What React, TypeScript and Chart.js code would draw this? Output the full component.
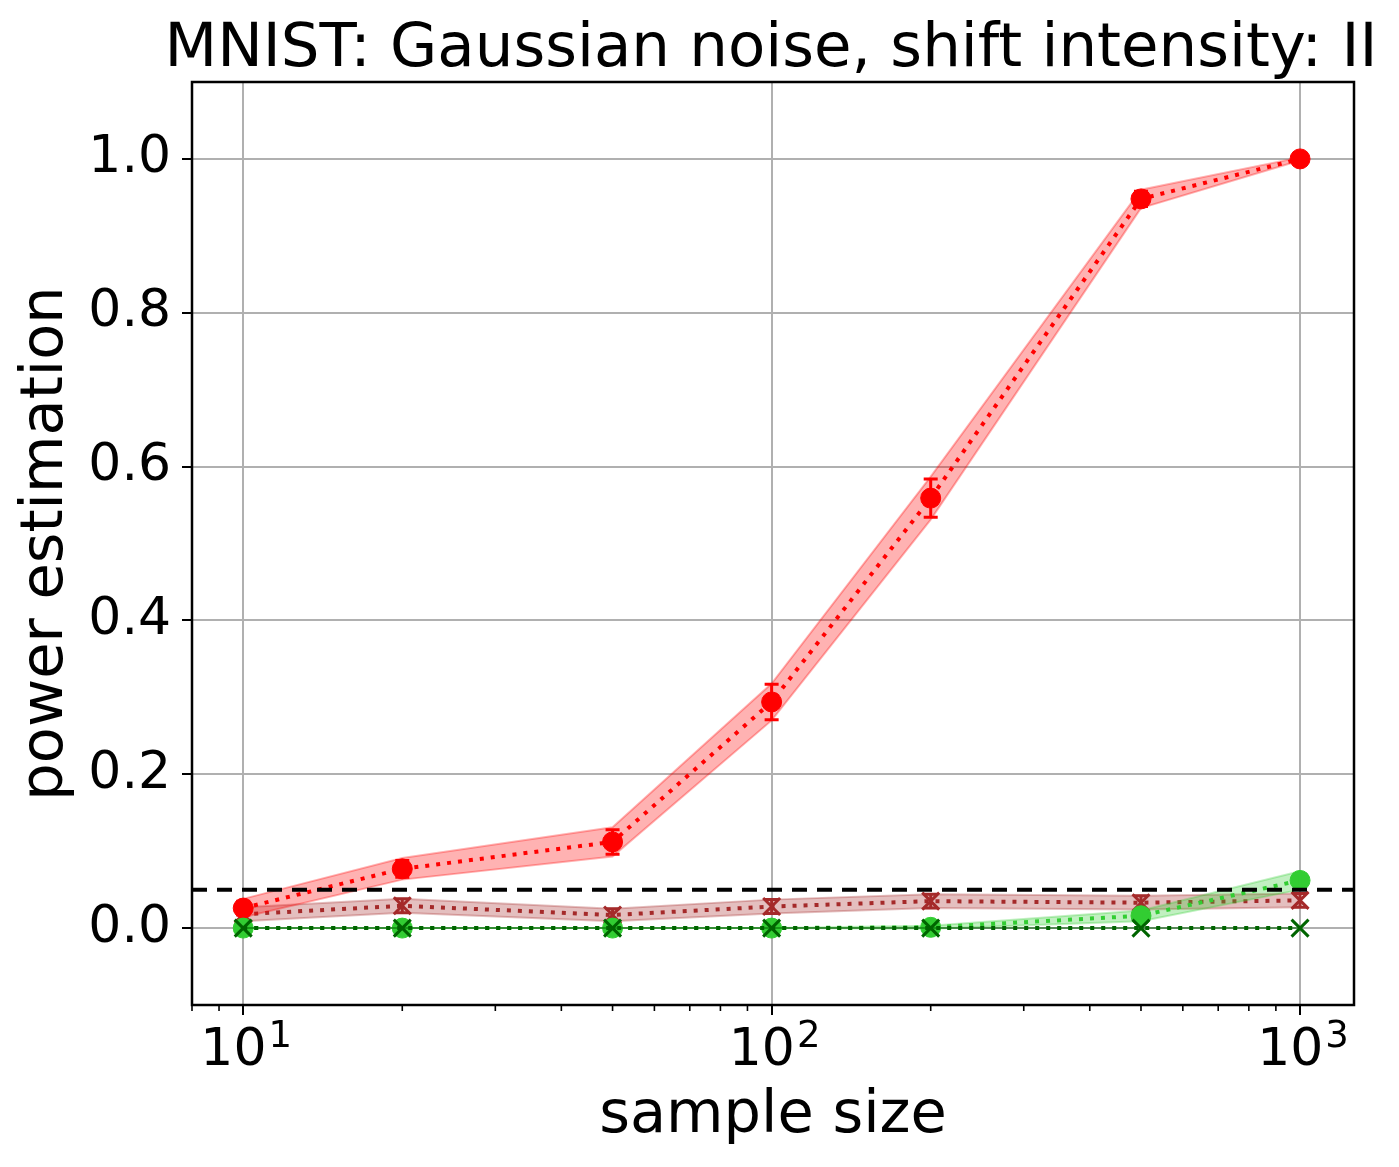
import { useEffect, useRef } from "react"
import { Chart, registerables } from "chart.js"

Chart.register(...registerables)

const TITLE = "MNIST: Gaussian noise, shift intensity: II"
const X_LABEL = "sample size"
const Y_LABEL = "power estimation"

const SAMPLE_SIZES = [10, 20, 50, 100, 200, 500, 1000]

const RED_MEAN = [0.026, 0.077, 0.112, 0.294, 0.559, 0.948, 1.0]
const RED_ERR = [0.009, 0.011, 0.016, 0.023, 0.025, 0.01, 0.0]
const RED_BAND = [0.012, 0.014, 0.019, 0.024, 0.028, 0.012, 0.002]

const BROWN_MEAN = [0.018, 0.029, 0.017, 0.028, 0.035, 0.033, 0.036]
const BROWN_ERR = [0.009, 0.009, 0.008, 0.009, 0.009, 0.009, 0.009]
const BROWN_BAND = [0.009, 0.009, 0.008, 0.009, 0.009, 0.009, 0.009]

const LIME_MEAN = [0, 0, 0, 0, 0.001, 0.016, 0.062]
const LIME_ERR = [0, 0, 0, 0, 0.001, 0.005, 0.008]
const LIME_BAND = [0, 0, 0, 0, 0.002, 0.007, 0.012]

const DARKGREEN_MEAN = [0, 0, 0, 0, 0, 0, 0]
const DARKGREEN_BAND = [0, 0, 0, 0, 0, 0, 0]

const ALPHA_LEVEL = 0.05

const X_MIN = 8
const X_MAX = 1265
const X_MAJOR = [10, 100, 1000]
const Y_TICKS = [0, 0.2, 0.4, 0.6, 0.8, 1.0]

const FONT = "'DejaVu Sans', sans-serif"

type Series = {
  mean: number[]
  err: number[] | null
  band: number[]
  rgb: string
  style: "circle" | "crossRot"
  radius: number
}

const SERIES: Series[] = [
  { mean: BROWN_MEAN, err: BROWN_ERR, band: BROWN_BAND, rgb: "165, 42, 42", style: "crossRot", radius: 12 },
  { mean: RED_MEAN, err: RED_ERR, band: RED_BAND, rgb: "255, 0, 0", style: "circle", radius: 10 },
  { mean: LIME_MEAN, err: LIME_ERR, band: LIME_BAND, rgb: "50, 205, 50", style: "circle", radius: 10 },
  { mean: DARKGREEN_MEAN, err: null, band: DARKGREEN_BAND, rgb: "0, 100, 0", style: "crossRot", radius: 12 },
]

function buildDatasets() {
  const sets: any[] = []
  let order = 100
  SERIES.forEach((s) => {
    sets.push({
      data: SAMPLE_SIZES.map((x, i) => ({ x, y: s.mean[i] - s.band[i] })),
      borderColor: `rgba(${s.rgb}, 0.3)`,
      borderWidth: 2,
      pointRadius: 0,
      fill: false,
      order: order,
    })
    sets.push({
      data: SAMPLE_SIZES.map((x, i) => ({ x, y: s.mean[i] + s.band[i] })),
      borderColor: `rgba(${s.rgb}, 0.3)`,
      backgroundColor: `rgba(${s.rgb}, 0.3)`,
      borderWidth: 2,
      pointRadius: 0,
      fill: "-1",
      order: order,
    })
    order -= 1
    sets.push({
      data: SAMPLE_SIZES.map((x, i) => ({ x, y: s.mean[i] })),
      borderColor: `rgb(${s.rgb})`,
      borderWidth: 4,
      borderDash: [4, 7],
      pointStyle: s.style,
      pointRadius: s.radius,
      pointBackgroundColor: `rgb(${s.rgb})`,
      pointBorderColor: `rgb(${s.rgb})`,
      pointBorderWidth: s.style === "crossRot" ? 3 : 1,
      fill: false,
      order: order,
      errors: s.err,
    })
    order -= 1
  })
  sets.push({
    data: [
      { x: X_MIN, y: ALPHA_LEVEL },
      { x: X_MAX, y: ALPHA_LEVEL },
    ],
    borderColor: "#000000",
    borderWidth: 4,
    borderDash: [15, 10],
    pointRadius: 0,
    fill: false,
    order: order,
  })
  return sets
}

const decorations = {
  id: "decorations",
  afterDatasetDraw(chart: any, args: any) {
    const ds = chart.data.datasets[args.index]
    if (!ds.errors) return
    const ctx = chart.ctx
    const xs = chart.scales.x
    const ys = chart.scales.y
    ctx.save()
    ctx.strokeStyle = ds.borderColor
    ctx.lineWidth = 3
    ds.data.forEach((p: any, i: number) => {
      const e = ds.errors[i]
      if (!e) return
      const px = xs.getPixelForValue(p.x)
      const top = ys.getPixelForValue(p.y + e)
      const bot = ys.getPixelForValue(p.y - e)
      ctx.beginPath()
      ctx.moveTo(px, top)
      ctx.lineTo(px, bot)
      ctx.moveTo(px - 7, top)
      ctx.lineTo(px + 7, top)
      ctx.moveTo(px - 7, bot)
      ctx.lineTo(px + 7, bot)
      ctx.stroke()
    })
    ctx.restore()
  },
  afterDraw(chart: any) {
    const ctx = chart.ctx
    const { left, right, top, bottom } = chart.chartArea
    const xs = chart.scales.x
    ctx.save()
    // frame
    ctx.strokeStyle = "#000000"
    ctx.lineWidth = 2.5
    ctx.strokeRect(left, top, right - left, bottom - top)
    // minor ticks on log axis
    ctx.lineWidth = 1.6
    ctx.beginPath()
    for (let d = 1; d <= 1000; d *= 10) {
      for (let m = 2; m <= 9; m++) {
        const v = d * m
        if (v < X_MIN || v > X_MAX) continue
        const px = xs.getPixelForValue(v)
        ctx.moveTo(px, bottom)
        ctx.lineTo(px, bottom + 6)
      }
    }
    ctx.stroke()
    // x tick labels 10^n
    ctx.fillStyle = "#000000"
    ctx.textBaseline = "alphabetic"
    ctx.textAlign = "left"
    X_MAJOR.forEach((v) => {
      const px = xs.getPixelForValue(v)
      const exp = String(Math.round(Math.log10(v)))
      ctx.font = `52px ${FONT}`
      const wBase = ctx.measureText("10").width
      ctx.font = `37px ${FONT}`
      const wExp = ctx.measureText(exp).width
      const x0 = px - (wBase + wExp) / 2 + 2
      ctx.font = `52px ${FONT}`
      ctx.fillText("10", x0, bottom + 60)
      ctx.font = `37px ${FONT}`
      ctx.fillText(exp, x0 + wBase + 2, bottom + 42)
    })
    // title
    ctx.font = `61px ${FONT}`
    ctx.textAlign = "center"
    ctx.fillText(TITLE, (left + right) / 2 - 2, top - 16)
    ctx.restore()
  },
}

export default function App() {
  const chartRef = useRef<HTMLCanvasElement>(null)
  const chartInstance = useRef<Chart | null>(null)

  useEffect(() => {
    const canvas = chartRef.current
    if (!canvas) return
    const ctx = canvas.getContext("2d")
    if (!ctx) return

    if (chartInstance.current) {
      chartInstance.current.destroy()
    }

    chartInstance.current = new Chart(ctx, {
      type: "line",
      data: { datasets: buildDatasets() },
      plugins: [decorations],
      options: {
        animation: false,
        responsive: true,
        maintainAspectRatio: false,
        layout: { padding: { top: 82, right: 45, left: 0, bottom: 0 } },
        plugins: {
          legend: { display: false },
          title: { display: false },
          tooltip: { enabled: false },
        },
        elements: { line: { tension: 0 } },
        scales: {
          x: {
            type: "logarithmic",
            min: X_MIN,
            max: X_MAX,
            afterBuildTicks: (scale: any) => {
              scale.ticks = X_MAJOR.map((v) => ({ value: v, major: true }))
            },
            afterFit: (scale: any) => {
              scale.height = 162
            },
            ticks: { display: false },
            grid: {
              color: "#b0b0b0",
              lineWidth: 2,
              tickColor: "#000000",
              tickLength: 10,
              tickWidth: 2,
            },
            border: { display: false },
            title: {
              display: true,
              text: X_LABEL,
              color: "#000000",
              font: { family: FONT, size: 59, lineHeight: 1.2 },
              padding: { top: 0, bottom: 15 },
            },
          },
          y: {
            type: "linear",
            min: -0.1,
            max: 1.1,
            afterBuildTicks: (scale: any) => {
              scale.ticks = Y_TICKS.map((v) => ({ value: v }))
            },
            afterFit: (scale: any) => {
              scale.width = 192
            },
            ticks: {
              color: "#000000",
              padding: 11,
              font: { family: FONT, size: 52 },
              callback: (v: any) => Number(v).toFixed(1),
            },
            grid: {
              color: "#b0b0b0",
              lineWidth: 2,
              tickColor: "#000000",
              tickLength: 10,
              tickWidth: 2,
            },
            border: { display: false },
            title: {
              display: true,
              text: Y_LABEL,
              color: "#000000",
              font: { family: FONT, size: 59, lineHeight: 1.2 },
              padding: { top: 11, bottom: 0 },
            },
          },
        },
      } as any,
    })

    return () => {
      if (chartInstance.current) {
        chartInstance.current.destroy()
        chartInstance.current = null
      }
    }
  }, [])

  return (
    <div style={{ position: "fixed", inset: 0, background: "#ffffff" }}>
      <canvas ref={chartRef}></canvas>
    </div>
  )
}
